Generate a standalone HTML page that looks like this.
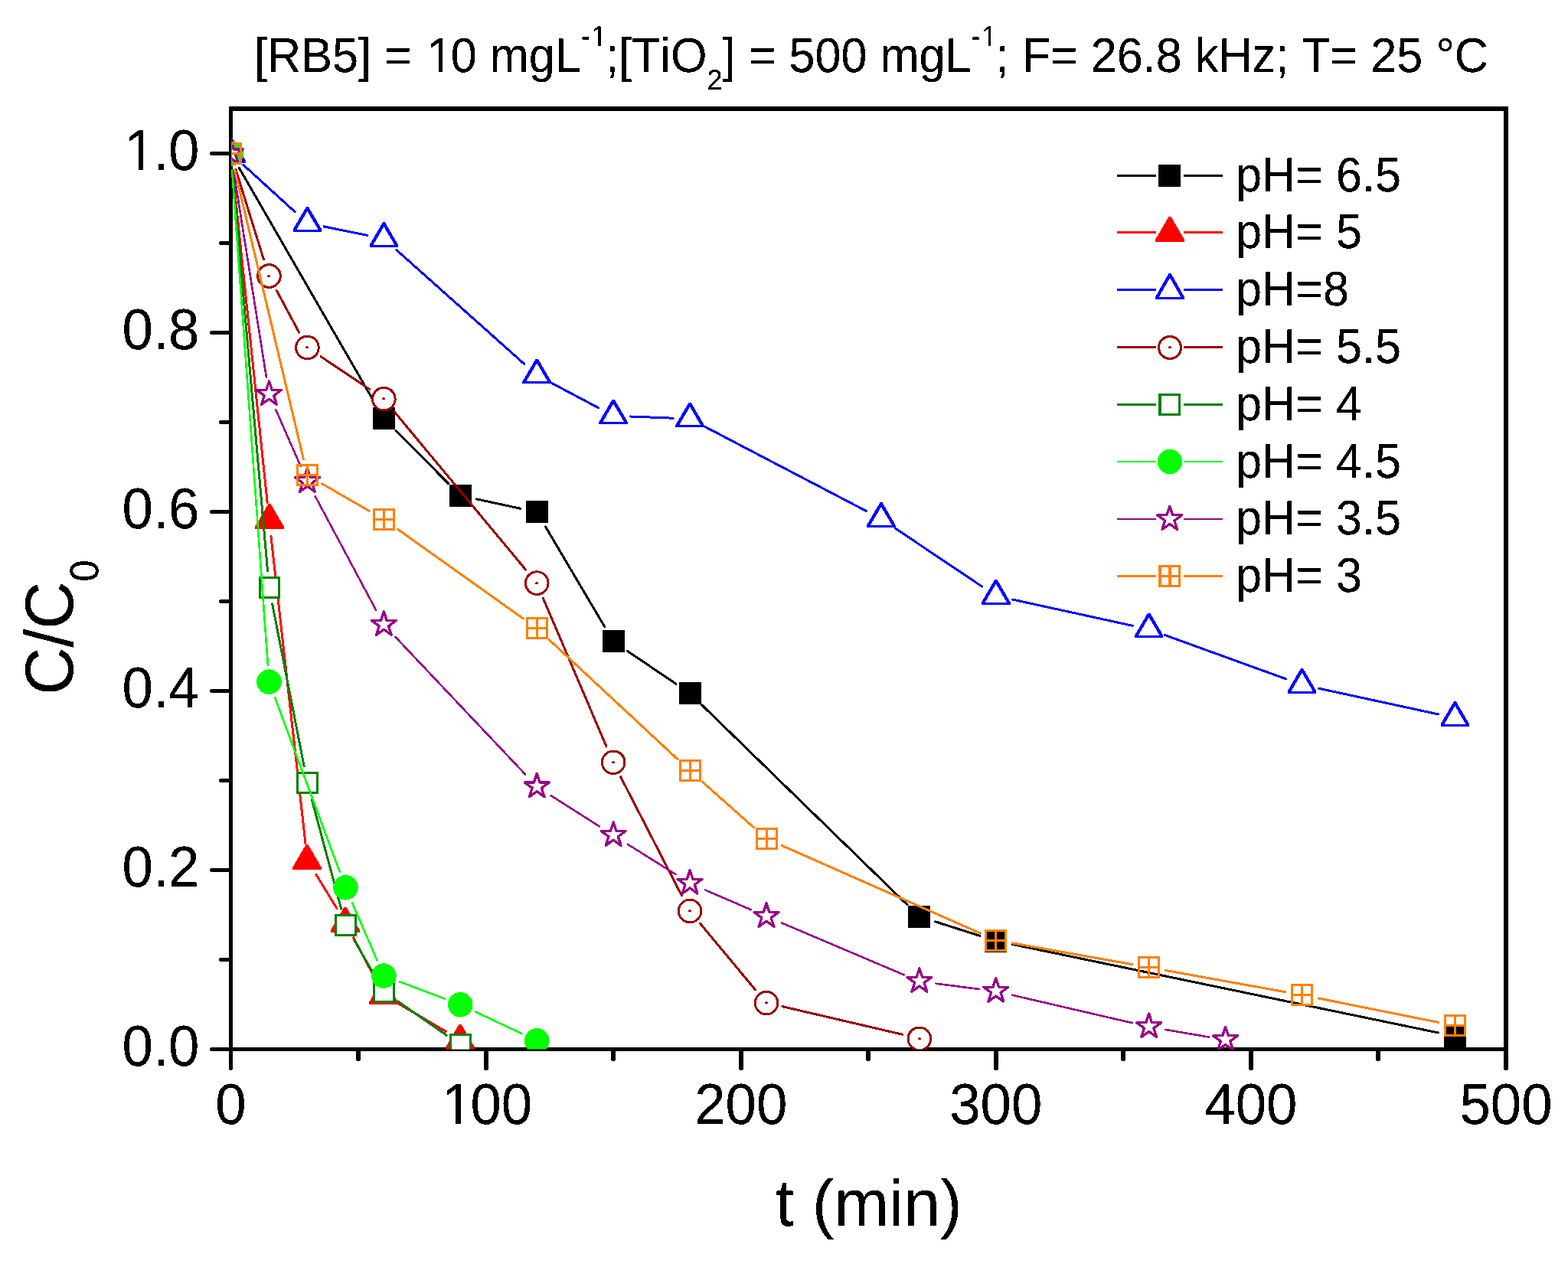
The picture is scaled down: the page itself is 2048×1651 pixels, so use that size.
<!DOCTYPE html>
<html lang="en"><head><meta charset="utf-8"><title>RB5 degradation - effect of pH</title>
<style>html,body{margin:0;padding:0;background:#fff}body{width:2048px;height:1651px;overflow:hidden}svg{display:block}text{font-family:"Liberation Sans",Arial,sans-serif;fill:#000;font-kerning:none;font-variant-ligatures:none;text-rendering:geometricPrecision}</style>
</head><body>
<svg xmlns="http://www.w3.org/2000/svg" width="2048" height="1651" viewBox="0 0 2048 1651">
<defs><clipPath id="plot"><rect x="302" y="142" width="1665" height="1228.5"/></clipPath><filter id="bw" filterUnits="userSpaceOnUse" x="0" y="0" width="2048" height="1651" color-interpolation-filters="sRGB"><feComponentTransfer><feFuncA type="discrete" tableValues="0 0 1 1 1"/></feComponentTransfer></filter></defs>
<rect width="2048" height="1651" fill="#fff"/>
<g id="axes" fill="#000" shape-rendering="crispEdges">
<path d="M299 139h1671v6h-1671z"/>
<path d="M299 139h5v1258h-1v1h-3v-1h-1z"/>
<path d="M1964 139h6v1258h-1v1h-4v-1h-1z"/>
<path d="M299 1368h1671v5h-1671z"/>
<path d="M275 1368h24v5h-24v-1h-1v-3h1z"/>
<path d="M287 1251h12v5h-12v-1h-1v-3h1z"/>
<path d="M275 1134h24v5h-24v-1h-1v-3h1z"/>
<path d="M287 1017h12v5h-12v-1h-1v-3h1z"/>
<path d="M275 900h24v5h-24v-1h-1v-3h1z"/>
<path d="M287 783h12v5h-12v-1h-1v-3h1z"/>
<path d="M275 666h24v5h-24v-1h-1v-3h1z"/>
<path d="M287 549h12v5h-12v-1h-1v-3h1z"/>
<path d="M275 432h24v5h-24v-1h-1v-3h1z"/>
<path d="M287 315h12v5h-12v-1h-1v-3h1z"/>
<path d="M275 198h24v5h-24v-1h-1v-3h1z"/>
<path d="M465 1373h6v12h-1v1h-4v-1h-1z"/>
<path d="M632 1373h6v24h-1v1h-4v-1h-1z"/>
<path d="M798 1373h6v12h-1v1h-4v-1h-1z"/>
<path d="M965 1373h6v24h-1v1h-4v-1h-1z"/>
<path d="M1131 1373h6v12h-1v1h-4v-1h-1z"/>
<path d="M1298 1373h6v24h-1v1h-4v-1h-1z"/>
<path d="M1464 1373h6v12h-1v1h-4v-1h-1z"/>
<path d="M1631 1373h6v24h-1v1h-4v-1h-1z"/>
<path d="M1797 1373h6v12h-1v1h-4v-1h-1z"/>
</g>
<g id="data" clip-path="url(#plot)" shape-rendering="crispEdges">
<g stroke="#000000" stroke-width="3" fill="none" stroke-linecap="round">
<line x1="312.49" y1="219.56" x2="490.37" y2="527.84"/>
<line x1="516.88" y1="562.49" x2="585.77" y2="631.71"/>
<line x1="622.79" y1="651.95" x2="679.72" y2="664.25"/>
<line x1="712.42" y1="687.84" x2="789.95" y2="818.96"/>
<line x1="819.36" y1="850.24" x2="882.87" y2="893.26"/>
<line x1="916.85" y1="920.94" x2="1185.1" y2="1181.86"/>
<line x1="1221.83" y1="1203.87" x2="1279.84" y2="1222.33"/>
<line x1="1322.34" y1="1233.47" x2="1878.84" y2="1349.03"/>
</g>
<g>
<rect x="287" y="186" width="29" height="29" fill="#000000"/>
<rect x="486.86" y="532.4" width="29" height="29" fill="#000000"/>
<rect x="586.79" y="632.8" width="29" height="29" fill="#000000"/>
<rect x="686.72" y="654.4" width="29" height="29" fill="#000000"/>
<rect x="786.65" y="823.4" width="29" height="29" fill="#000000"/>
<rect x="886.58" y="891.1" width="29" height="29" fill="#000000"/>
<rect x="1186.37" y="1182.7" width="29" height="29" fill="#000000"/>
<rect x="1286.3" y="1214.5" width="29" height="29" fill="#000000"/>
<rect x="1885.88" y="1339" width="29" height="29" fill="#000000"/>
</g>
<g stroke="#ff0000" stroke-width="3" fill="none" stroke-linecap="round">
<line x1="303.79" y1="222.38" x2="349.18" y2="656.62"/>
<line x1="353.92" y1="700.36" x2="398.98" y2="1101.74"/>
<line x1="412.91" y1="1142.37" x2="439.92" y2="1186.53"/>
<line x1="461.69" y1="1224.74" x2="491.07" y2="1280.26"/>
<line x1="520.33" y1="1310.84" x2="582.32" y2="1347.26"/>
</g>
<g>
<path d="M300.5 180h3L321 210v3h-38v-3z" fill="#ff0000"/>
<path d="M350.5 658h3L371 688v3h-38v-3z" fill="#ff0000"/>
<path d="M399.5 1103.1h3L420 1133.1v3h-38v-3z" fill="#ff0000"/>
<path d="M449.5 1184.8h3L470 1214.8v3h-38v-3z" fill="#ff0000"/>
<path d="M499.5 1279.2h3L520 1309.2v3h-38v-3z" fill="#ff0000"/>
<path d="M599.5 1337.9h3L620 1367.9v3h-38v-3z" fill="#ff0000"/>
</g>
<g stroke="#0000ff" stroke-width="3" fill="none" stroke-linecap="round">
<line x1="317.77" y1="215.31" x2="385.16" y2="276.69"/>
<line x1="422.99" y1="295.88" x2="479.8" y2="307.42"/>
<line x1="517.78" y1="326.45" x2="684.8" y2="475.45"/>
<line x1="720.66" y1="500.41" x2="781.71" y2="532.79"/>
<line x1="823.13" y1="543.98" x2="879.1" y2="546.22"/>
<line x1="920.58" y1="557.29" x2="1131.41" y2="667.51"/>
<line x1="1169.17" y1="689.96" x2="1282.53" y2="766.04"/>
<line x1="1322.29" y1="783" x2="1479.17" y2="817.3"/>
<line x1="1521.34" y1="829.49" x2="1679.84" y2="886.91"/>
<line x1="1722.02" y1="899.06" x2="1878.88" y2="933.04"/>
</g>
<g>
<path d="M300 180.1h3L320.3 209.7v3h-37.6v-3z" fill="#0000ff"/><path d="M301.5 185.9l14 23.8h-28z" fill="#fff"/>
<path d="M399.93 270.1h3L420.23 299.7v3h-37.6v-3z" fill="#0000ff"/><path d="M401.43 275.9l14 23.8h-28z" fill="#fff"/>
<path d="M499.86 290.4h3L520.16 320v3h-37.6v-3z" fill="#0000ff"/><path d="M501.36 296.2l14 23.8h-28z" fill="#fff"/>
<path d="M699.72 468.7h3L720.02 498.3v3h-37.6v-3z" fill="#0000ff"/><path d="M701.22 474.5l14 23.8h-28z" fill="#fff"/>
<path d="M799.65 521.7h3L819.95 551.3v3h-37.6v-3z" fill="#0000ff"/><path d="M801.15 527.5l14 23.8h-28z" fill="#fff"/>
<path d="M899.58 525.7h3L919.88 555.3v3h-37.6v-3z" fill="#0000ff"/><path d="M901.08 531.5l14 23.8h-28z" fill="#fff"/>
<path d="M1149.4 656.3h3L1169.7 685.9v3h-37.6v-3z" fill="#0000ff"/><path d="M1150.9 662.1l14 23.8h-28z" fill="#fff"/>
<path d="M1299.3 756.9h3L1319.6 786.5v3h-37.6v-3z" fill="#0000ff"/><path d="M1300.8 762.7l14 23.8h-28z" fill="#fff"/>
<path d="M1499.16 800.6h3L1519.46 830.2v3h-37.6v-3z" fill="#0000ff"/><path d="M1500.66 806.4l14 23.8h-28z" fill="#fff"/>
<path d="M1699.02 873h3L1719.32 902.6v3h-37.6v-3z" fill="#0000ff"/><path d="M1700.52 878.8l14 23.8h-28z" fill="#fff"/>
<path d="M1898.88 916.3h3L1919.18 945.9v3h-37.6v-3z" fill="#0000ff"/><path d="M1900.38 922.1l14 23.8h-28z" fill="#fff"/>
</g>
<g stroke="#990000" stroke-width="3" fill="none" stroke-linecap="round">
<line x1="308.02" y1="221.51" x2="344.45" y2="338.99"/>
<line x1="361.33" y1="379.4" x2="390.56" y2="434.1"/>
<line x1="419.19" y1="465.78" x2="482.6" y2="508.42"/>
<line x1="514.92" y1="537.62" x2="686.66" y2="744.18"/>
<line x1="709.35" y1="781.33" x2="792.02" y2="975.07"/>
<line x1="810.72" y1="1014.86" x2="890.51" y2="1169.94"/>
<line x1="914.65" y1="1206.41" x2="986.44" y2="1292.69"/>
<line x1="1021.93" y1="1314.61" x2="1178.95" y2="1351.29"/>
</g>
<g>
<circle cx="301.5" cy="200.5" r="14.8" fill="#fff" stroke="#990000" stroke-width="3"/><path d="M299.5 201.5h4v-2h-1v-1h-2v1h-1z" fill="#990000"/>
<circle cx="351.47" cy="360.5" r="14.8" fill="#fff" stroke="#990000" stroke-width="3"/><path d="M349.47 361.5h4v-2h-1v-1h-2v1h-1z" fill="#990000"/>
<circle cx="401.43" cy="454" r="14.8" fill="#fff" stroke="#990000" stroke-width="3"/><path d="M399.43 455h4v-2h-1v-1h-2v1h-1z" fill="#990000"/>
<circle cx="501.36" cy="521.2" r="14.8" fill="#fff" stroke="#990000" stroke-width="3"/><path d="M499.36 522.2h4v-2h-1v-1h-2v1h-1z" fill="#990000"/>
<circle cx="701.22" cy="761.6" r="14.8" fill="#fff" stroke="#990000" stroke-width="3"/><path d="M699.22 762.6h4v-2h-1v-1h-2v1h-1z" fill="#990000"/>
<circle cx="801.15" cy="995.8" r="14.8" fill="#fff" stroke="#990000" stroke-width="3"/><path d="M799.15 996.8h4v-2h-1v-1h-2v1h-1z" fill="#990000"/>
<circle cx="901.08" cy="1190" r="14.8" fill="#fff" stroke="#990000" stroke-width="3"/><path d="M899.08 1191h4v-2h-1v-1h-2v1h-1z" fill="#990000"/>
<circle cx="1001.01" cy="1310.1" r="14.8" fill="#fff" stroke="#990000" stroke-width="3"/><path d="M999.01 1311.1h4v-2h-1v-1h-2v1h-1z" fill="#990000"/>
<circle cx="1200.87" cy="1356.8" r="14.8" fill="#fff" stroke="#990000" stroke-width="3"/><path d="M1198.87 1357.8h4v-2h-1v-1h-2v1h-1z" fill="#990000"/>
</g>
<g stroke="#008000" stroke-width="3" fill="none" stroke-linecap="round">
<line x1="303.43" y1="222.42" x2="349.53" y2="745.48"/>
<line x1="355.69" y1="788.99" x2="397.2" y2="1001.01"/>
<line x1="407.14" y1="1043.85" x2="445.68" y2="1187.15"/>
<line x1="462.37" y1="1227.47" x2="490.38" y2="1276.13"/>
<line x1="519.41" y1="1307.77" x2="583.24" y2="1352.23"/>
</g>
<g>
<rect x="287.55" y="186" width="28.5" height="29" fill="#008000"/><rect x="290.55" y="189" width="22.5" height="23" fill="#fff"/>
<rect x="337.52" y="752.9" width="28.5" height="29" fill="#008000"/><rect x="340.52" y="755.9" width="22.5" height="23" fill="#fff"/>
<rect x="387.48" y="1008.1" width="28.5" height="29" fill="#008000"/><rect x="390.48" y="1011.1" width="22.5" height="23" fill="#fff"/>
<rect x="437.44" y="1193.9" width="28.5" height="29" fill="#008000"/><rect x="440.44" y="1196.9" width="22.5" height="23" fill="#fff"/>
<rect x="487.41" y="1280.7" width="28.5" height="29" fill="#008000"/><rect x="490.41" y="1283.7" width="22.5" height="23" fill="#fff"/>
<rect x="587.34" y="1350.3" width="28.5" height="29" fill="#008000"/><rect x="590.34" y="1353.3" width="22.5" height="23" fill="#fff"/>
</g>
<g stroke="#00ff00" stroke-width="2.6" fill="none" stroke-linecap="round">
<line x1="303.09" y1="222.44" x2="349.88" y2="868.76"/>
<line x1="359.14" y1="911.32" x2="443.72" y2="1138.68"/>
<line x1="460.14" y1="1179.49" x2="492.61" y2="1254.41"/>
<line x1="521.94" y1="1282.37" x2="580.71" y2="1304.53"/>
<line x1="621.18" y1="1321.7" x2="681.33" y2="1350.1"/>
</g>
<g>
<circle cx="301.5" cy="200.5" r="16.3" fill="#00ff00"/>
<circle cx="351.47" cy="890.7" r="16.3" fill="#00ff00"/>
<circle cx="451.39" cy="1159.3" r="16.3" fill="#00ff00"/>
<circle cx="501.36" cy="1274.6" r="16.3" fill="#00ff00"/>
<circle cx="601.29" cy="1312.3" r="16.3" fill="#00ff00"/>
<circle cx="701.22" cy="1359.5" r="16.3" fill="#00ff00"/>
</g>
<g stroke="#970087" stroke-width="2.6" fill="none" stroke-linecap="round">
<line x1="304.95" y1="222.23" x2="348.01" y2="493.27"/>
<line x1="360.3" y1="535.15" x2="392.6" y2="608.85"/>
<line x1="411.8" y1="648.4" x2="490.99" y2="796.6"/>
<line x1="516.47" y1="831.99" x2="686.11" y2="1011.51"/>
<line x1="719.79" y1="1039.3" x2="782.58" y2="1079.2"/>
<line x1="819.78" y1="1102.71" x2="882.45" y2="1142.09"/>
<line x1="921.27" y1="1162.53" x2="980.82" y2="1188.27"/>
<line x1="1021.26" y1="1205.6" x2="1180.62" y2="1273.3"/>
<line x1="1222.69" y1="1284.72" x2="1278.98" y2="1291.98"/>
<line x1="1322.23" y1="1299.78" x2="1479.23" y2="1336.22"/>
<line x1="1522.34" y1="1344.91" x2="1578.91" y2="1354.59"/>
</g>
<g>
<polygon points="301.5,183.4 305.32,194.94 317.48,195.01 307.68,202.21 311.37,213.79 301.5,206.7 291.63,213.79 295.32,202.21 285.52,195.01 297.68,194.94" fill="#fff" stroke="#970087" stroke-width="3.3" stroke-linejoin="round"/>
<polygon points="351.47,497.9 355.29,509.44 367.44,509.51 357.65,516.71 361.34,528.29 351.47,521.2 341.59,528.29 345.28,516.71 335.49,509.51 347.64,509.44" fill="#fff" stroke="#970087" stroke-width="3.3" stroke-linejoin="round"/>
<polygon points="401.43,611.9 405.25,623.44 417.41,623.51 407.61,630.71 411.3,642.29 401.43,635.2 391.56,642.29 395.25,630.71 385.45,623.51 397.61,623.44" fill="#fff" stroke="#970087" stroke-width="3.3" stroke-linejoin="round"/>
<polygon points="501.36,798.9 505.18,810.44 517.34,810.51 507.54,817.71 511.23,829.29 501.36,822.2 491.49,829.29 495.18,817.71 485.38,810.51 497.54,810.44" fill="#fff" stroke="#970087" stroke-width="3.3" stroke-linejoin="round"/>
<polygon points="701.22,1010.4 705.04,1021.94 717.2,1022.01 707.4,1029.21 711.09,1040.79 701.22,1033.7 691.35,1040.79 695.04,1029.21 685.24,1022.01 697.4,1021.94" fill="#fff" stroke="#970087" stroke-width="3.3" stroke-linejoin="round"/>
<polygon points="801.15,1073.9 804.97,1085.44 817.13,1085.51 807.33,1092.71 811.02,1104.29 801.15,1097.2 791.28,1104.29 794.97,1092.71 785.17,1085.51 797.33,1085.44" fill="#fff" stroke="#970087" stroke-width="3.3" stroke-linejoin="round"/>
<polygon points="901.08,1136.7 904.9,1148.24 917.06,1148.31 907.26,1155.51 910.95,1167.09 901.08,1160 891.21,1167.09 894.9,1155.51 885.1,1148.31 897.26,1148.24" fill="#fff" stroke="#970087" stroke-width="3.3" stroke-linejoin="round"/>
<polygon points="1001.01,1179.9 1004.83,1191.44 1016.99,1191.51 1007.19,1198.71 1010.88,1210.29 1001.01,1203.2 991.14,1210.29 994.83,1198.71 985.03,1191.51 997.19,1191.44" fill="#fff" stroke="#970087" stroke-width="3.3" stroke-linejoin="round"/>
<polygon points="1200.87,1264.8 1204.69,1276.34 1216.85,1276.41 1207.05,1283.61 1210.74,1295.19 1200.87,1288.1 1191,1295.19 1194.69,1283.61 1184.89,1276.41 1197.05,1276.34" fill="#fff" stroke="#970087" stroke-width="3.3" stroke-linejoin="round"/>
<polygon points="1300.8,1277.7 1304.62,1289.24 1316.78,1289.31 1306.98,1296.51 1310.67,1308.09 1300.8,1301 1290.93,1308.09 1294.62,1296.51 1284.82,1289.31 1296.98,1289.24" fill="#fff" stroke="#970087" stroke-width="3.3" stroke-linejoin="round"/>
<polygon points="1500.66,1324.1 1504.48,1335.64 1516.64,1335.71 1506.84,1342.91 1510.53,1354.49 1500.66,1347.4 1490.79,1354.49 1494.48,1342.91 1484.68,1335.71 1496.84,1335.64" fill="#fff" stroke="#970087" stroke-width="3.3" stroke-linejoin="round"/>
<polygon points="1600.59,1341.2 1604.41,1352.74 1616.57,1352.81 1606.77,1360.01 1610.46,1371.59 1600.59,1364.5 1590.72,1371.59 1594.41,1360.01 1584.61,1352.81 1596.77,1352.74" fill="#fff" stroke="#970087" stroke-width="3.3" stroke-linejoin="round"/>
</g>
<g stroke="#ff8000" stroke-width="3" fill="none" stroke-linecap="round">
<line x1="306.59" y1="221.9" x2="396.34" y2="599.5"/>
<line x1="420.5" y1="631.87" x2="482.29" y2="667.43"/>
<line x1="519.28" y1="691.16" x2="683.3" y2="807.94"/>
<line x1="717.32" y1="835.69" x2="884.98" y2="991.71"/>
<line x1="917.53" y1="1021.31" x2="984.56" y2="1080.89"/>
<line x1="1021.13" y1="1104.39" x2="1280.68" y2="1219.11"/>
<line x1="1322.46" y1="1231.86" x2="1479" y2="1259.74"/>
<line x1="1522.31" y1="1267.5" x2="1678.87" y2="1295.7"/>
<line x1="1722.09" y1="1303.93" x2="1878.81" y2="1335.37"/>
</g>
<g>
<path fill-rule="evenodd" d="M287 186h29v29h-29zM290 189h10v10h-10zm13 0h10v10h-10zm-13 13h10v10h-10zm13 0h10v10h-10z" fill="#ff8000"/>
<path fill-rule="evenodd" d="M386.93 606.4h29v29h-29zM389.93 609.4h10v10h-10zm13 0h10v10h-10zm-13 13h10v10h-10zm13 0h10v10h-10z" fill="#ff8000"/>
<path fill-rule="evenodd" d="M486.86 663.9h29v29h-29zM489.86 666.9h10v10h-10zm13 0h10v10h-10zm-13 13h10v10h-10zm13 0h10v10h-10z" fill="#ff8000"/>
<path fill-rule="evenodd" d="M686.72 806.2h29v29h-29zM689.72 809.2h10v10h-10zm13 0h10v10h-10zm-13 13h10v10h-10zm13 0h10v10h-10z" fill="#ff8000"/>
<path fill-rule="evenodd" d="M886.58 992.2h29v29h-29zM889.58 995.2h10v10h-10zm13 0h10v10h-10zm-13 13h10v10h-10zm13 0h10v10h-10z" fill="#ff8000"/>
<path fill-rule="evenodd" d="M986.51 1081h29v29h-29zM989.51 1084h10v10h-10zm13 0h10v10h-10zm-13 13h10v10h-10zm13 0h10v10h-10z" fill="#ff8000"/>
<path fill-rule="evenodd" d="M1286.3 1213.5h29v29h-29zM1289.3 1216.5h10v10h-10zm13 0h10v10h-10zm-13 13h10v10h-10zm13 0h10v10h-10z" fill="#ff8000"/>
<path fill-rule="evenodd" d="M1486.16 1249.1h29v29h-29zM1489.16 1252.1h10v10h-10zm13 0h10v10h-10zm-13 13h10v10h-10zm13 0h10v10h-10z" fill="#ff8000"/>
<path fill-rule="evenodd" d="M1686.02 1285.1h29v29h-29zM1689.02 1288.1h10v10h-10zm13 0h10v10h-10zm-13 13h10v10h-10zm13 0h10v10h-10z" fill="#ff8000"/>
<path fill-rule="evenodd" d="M1885.88 1325.2h29v29h-29zM1888.88 1328.2h10v10h-10zm13 0h10v10h-10zm-13 13h10v10h-10zm13 0h10v10h-10z" fill="#ff8000"/>
</g>
</g>
<g id="legend">
<g shape-rendering="crispEdges"><path d="M1460.3 229.5H1508.5M1547.3 229.5H1595.7" stroke="#000000" stroke-width="3" fill="none" stroke-linecap="round"/><rect x="1513" y="215" width="29" height="29" fill="#000000"/></g>
<g shape-rendering="crispEdges"><path d="M1460.3 303.5H1508.5M1547.3 303.5H1595.7" stroke="#ff0000" stroke-width="3" fill="none" stroke-linecap="round"/><path d="M1526.5 283h3L1547 313v3h-38v-3z" fill="#ff0000"/></g>
<g shape-rendering="crispEdges"><path d="M1460.3 378.5H1508.5M1547.3 378.5H1595.7" stroke="#0000ff" stroke-width="3" fill="none" stroke-linecap="round"/><path d="M1526.5 357h3L1547 388v3h-38v-3z" fill="#0000ff"/><path d="M1528 362.9l14.2 25.1h-28.4z" fill="#fff"/></g>
<g shape-rendering="crispEdges"><path d="M1460.3 453.5H1508.5M1547.3 453.5H1595.7" stroke="#990000" stroke-width="3" fill="none" stroke-linecap="round"/><circle cx="1528" cy="454" r="14.5" fill="#fff" stroke="#990000" stroke-width="3"/><path d="M1526 455h4v-2h-1v-1h-2v1h-1z" fill="#990000"/></g>
<g shape-rendering="crispEdges"><path d="M1460.3 528.5H1508.5M1547.3 528.5H1595.7" stroke="#008000" stroke-width="3" fill="none" stroke-linecap="round"/><rect x="1513" y="514" width="29" height="29" fill="#008000"/><rect x="1517" y="517" width="22" height="23" fill="#fff"/></g>
<g shape-rendering="crispEdges"><path d="M1460.3 603H1508.5M1547.3 603H1595.7" stroke="#00ff00" stroke-width="2.6" fill="none" stroke-linecap="round"/><circle cx="1528" cy="603.1" r="16.2" fill="#00ff00"/></g>
<g shape-rendering="crispEdges"><path d="M1460.3 678H1508.5M1547.3 678H1595.7" stroke="#970087" stroke-width="2.6" fill="none" stroke-linecap="round"/><polygon points="1527.8,661.2 1531.62,672.74 1543.78,672.81 1533.98,680.01 1537.67,691.59 1527.8,684.5 1517.93,691.59 1521.62,680.01 1511.82,672.81 1523.98,672.74" fill="#fff" stroke="#970087" stroke-width="3.3" stroke-linejoin="round"/></g>
<g shape-rendering="crispEdges"><path d="M1460.3 752.5H1508.5M1547.3 752.5H1595.7" stroke="#ff8000" stroke-width="3" fill="none" stroke-linecap="round"/><path fill-rule="evenodd" d="M1513 738h29v29h-29zM1517 741h9v10h-9zm13 0h9v10h-9zm-13 13h9v10h-9zm13 0h9v10h-9z" fill="#ff8000"/></g>
</g>
<g id="labels" filter="url(#bw)">
<text transform="translate(1614,250.1) scale(1,1.038)" font-size="61.2" xml:space="preserve">pH= 6.5</text>
<text transform="translate(1614,324.1) scale(1,1.038)" font-size="61.2" xml:space="preserve">pH= 5</text>
<text transform="translate(1614,399.1) scale(1,1.038)" font-size="61.2" xml:space="preserve">pH=8</text>
<text transform="translate(1614,474.1) scale(1,1.038)" font-size="61.2" xml:space="preserve">pH= 5.5</text>
<text transform="translate(1614,549.1) scale(1,1.038)" font-size="61.2" xml:space="preserve">pH= 4</text>
<text transform="translate(1614,623.6) scale(1,1.038)" font-size="61.2" xml:space="preserve">pH= 4.5</text>
<text transform="translate(1614,698.1) scale(1,1.038)" font-size="61.2" xml:space="preserve">pH= 3.5</text>
<text transform="translate(1614,773.1) scale(1,1.038)" font-size="61.2" xml:space="preserve">pH= 3</text>
<text id="title" transform="translate(332,94.2) scale(1,1.038)" font-size="61.2" xml:space="preserve">[RB5] = <tspan class="n1" dx="2.45">1</tspan><tspan dx="-2.45">0 mgL</tspan><tspan font-size="36.11" dy="-32.85">-<tspan class="n1" dx="1.44">1</tspan></tspan><tspan dy="32.85" dx="-1.44">;[TiO</tspan><tspan font-size="36.11" dy="22.06">2</tspan><tspan dy="-22.06">] = 500 mgL</tspan><tspan font-size="36.11" dy="-32.85">-<tspan class="n1" dx="1.44">1</tspan></tspan><tspan dy="32.85" dx="-1.44">; F= 26.8 kHz; T= 25 °C</tspan></text>
<g id="ticklabels" font-size="72.6">
<text transform="translate(260.5,1392) scale(1,1.038)" text-anchor="end">0.0</text>
<text transform="translate(260.5,1158) scale(1,1.038)" text-anchor="end">0.2</text>
<text transform="translate(260.5,924) scale(1,1.038)" text-anchor="end">0.4</text>
<text transform="translate(260.5,690) scale(1,1.038)" text-anchor="end">0.6</text>
<text transform="translate(260.5,456) scale(1,1.038)" text-anchor="end">0.8</text>
<text transform="translate(260.5,222) scale(1,1.038)" text-anchor="end"><tspan class="n1">1</tspan><tspan dx="-2.9">.0</tspan></text>
<text transform="translate(301.5,1468) scale(1,1.038)" text-anchor="middle">0</text>
<text transform="translate(636.05,1468) scale(1,1.038)" text-anchor="middle"><tspan class="n1">1</tspan><tspan dx="-2.9">00</tspan></text>
<text transform="translate(967.7,1468) scale(1,1.038)" text-anchor="middle">200</text>
<text transform="translate(1300.8,1468) scale(1,1.038)" text-anchor="middle">300</text>
<text transform="translate(1633.9,1468) scale(1,1.038)" text-anchor="middle">400</text>
<text transform="translate(1967,1468) scale(1,1.038)" text-anchor="middle">500</text>
</g>
<text id="xtitle" transform="translate(1013,1600.7) scale(1,1.0)" font-size="86.0" xml:space="preserve">t (min)</text>
<text id="ytitle" transform="translate(95.2,907.6) rotate(-90) scale(1,1.038)" font-size="86.0">C/C<tspan font-size="50.74" dy="31.41">0</tspan></text>
</g>
<g id="trim" fill="#fff" shape-rendering="crispEdges"><rect x="559.66" y="88.65" width="12.84" height="6.55"/><rect x="578.11" y="88.65" width="12.24" height="6.55"/><rect x="773.78" y="56.5" width="7.54" height="4.6"/><rect x="784.7" y="56.5" width="7.22" height="4.6"/><rect x="1283.43" y="56.5" width="7.54" height="4.6"/><rect x="1294.36" y="56.5" width="7.22" height="4.6"/><rect x="165.38" y="215.57" width="15.25" height="7.43"/><rect x="187.25" y="215.57" width="14.52" height="7.43"/><rect x="579.84" y="1461.57" width="15.25" height="7.43"/><rect x="601.71" y="1461.57" width="14.52" height="7.43"/></g>
</svg>
</body></html>
